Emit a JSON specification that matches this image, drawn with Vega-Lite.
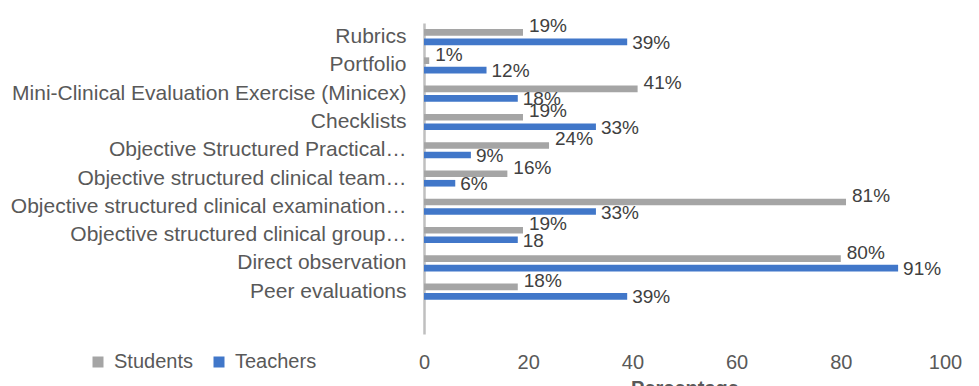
{
  "$schema": "https://vega.github.io/schema/vega-lite/v6.json",
  "width": 521,
  "height": 311,
  "autosize": {"type": "none"},
  "padding": {"left": 424, "top": 23, "right": 34, "bottom": 52},
  "background": "white",
  "config": {"font": "Liberation Sans", "view": {"stroke": null}},
  "data": {
    "values": [
      {"method": "Rubrics", "group": "Students", "value": 19, "label": "19%"},
      {"method": "Rubrics", "group": "Teachers", "value": 39, "label": "39%"},
      {"method": "Portfolio", "group": "Students", "value": 1, "label": "1%"},
      {"method": "Portfolio", "group": "Teachers", "value": 12, "label": "12%"},
      {"method": "Mini-Clinical Evaluation Exercise (Minicex)", "group": "Students", "value": 41, "label": "41%"},
      {"method": "Mini-Clinical Evaluation Exercise (Minicex)", "group": "Teachers", "value": 18, "label": "18%"},
      {"method": "Checklists", "group": "Students", "value": 19, "label": "19%"},
      {"method": "Checklists", "group": "Teachers", "value": 33, "label": "33%"},
      {"method": "Objective Structured  Practical…", "group": "Students", "value": 24, "label": "24%"},
      {"method": "Objective Structured  Practical…", "group": "Teachers", "value": 9, "label": "9%"},
      {"method": "Objective structured clinical team…", "group": "Students", "value": 16, "label": "16%"},
      {"method": "Objective structured clinical team…", "group": "Teachers", "value": 6, "label": "6%"},
      {"method": "Objective structured clinical examination…", "group": "Students", "value": 81, "label": "81%"},
      {"method": "Objective structured clinical examination…", "group": "Teachers", "value": 33, "label": "33%"},
      {"method": "Objective structured clinical group…", "group": "Students", "value": 19, "label": "19%"},
      {"method": "Objective structured clinical group…", "group": "Teachers", "value": 18, "label": "18"},
      {"method": "Direct observation", "group": "Students", "value": 80, "label": "80%"},
      {"method": "Direct observation", "group": "Teachers", "value": 91, "label": "91%"},
      {"method": "Peer evaluations", "group": "Students", "value": 18, "label": "18%"},
      {"method": "Peer evaluations", "group": "Teachers", "value": 39, "label": "39%"}
    ]
  },
  "encoding": {
    "y": {
      "field": "method",
      "type": "nominal",
      "scale": {
        "domain": ["Rubrics", "Portfolio", "Mini-Clinical Evaluation Exercise (Minicex)", "Checklists", "Objective Structured  Practical…", "Objective structured clinical team…", "Objective structured clinical examination…", "Objective structured clinical group…", "Direct observation", "Peer evaluations", ""],
        "paddingInner": 0.43,
        "paddingOuter": 0.215
      },
      "axis": {
        "title": null,
        "ticks": false,
        "labelFontSize": 21,
        "labelColor": "#595959",
        "labelPadding": 18,
        "labelLimit": 500,
        "domainColor": "#BFBFBF",
        "domainWidth": 2.5,
        "grid": false
      }
    },
    "yOffset": {
      "field": "group",
      "type": "nominal",
      "scale": {"domain": ["Students", "Teachers"], "paddingInner": 0.3}
    },
    "x": {
      "field": "value",
      "type": "quantitative",
      "scale": {"domain": [0, 100]},
      "axis": {
        "title": "Percentage",
        "titleFontSize": 20,
        "titleFontWeight": "bold",
        "titleColor": "#595959",
        "titlePadding": 6,
        "values": [0, 20, 40, 60, 80, 100],
        "labelFlush": false,
        "labelFontSize": 20,
        "labelColor": "#595959",
        "labelPadding": 18,
        "ticks": false,
        "domain": false,
        "grid": false
      }
    }
  },
  "layer": [
    {
      "mark": {"type": "bar"},
      "encoding": {
        "color": {
          "field": "group",
          "type": "nominal",
          "scale": {"domain": ["Students", "Teachers"], "range": ["#A5A5A5", "#4177C9"]},
          "legend": {
            "title": null,
            "orient": "none",
            "direction": "horizontal",
            "legendX": -336,
            "legendY": 329,
            "symbolType": "square",
            "symbolSize": 121,
            "symbolStrokeWidth": 0,
            "labelFontSize": 20,
            "labelColor": "#595959",
            "labelOffset": 6,
            "columnPadding": 16
          }
        }
      }
    },
    {
      "transform": [{"filter": "datum.group === 'Students'"}],
      "mark": {"type": "text", "align": "left", "baseline": "middle", "dx": 6, "dy": -6, "fontSize": 19, "color": "#404040"},
      "encoding": {"text": {"field": "label"}}
    },
    {
      "transform": [{"filter": "datum.group === 'Teachers'"}],
      "mark": {"type": "text", "align": "left", "baseline": "middle", "dx": 5, "dy": 1, "fontSize": 19, "color": "#404040"},
      "encoding": {"text": {"field": "label"}}
    }
  ]
}
